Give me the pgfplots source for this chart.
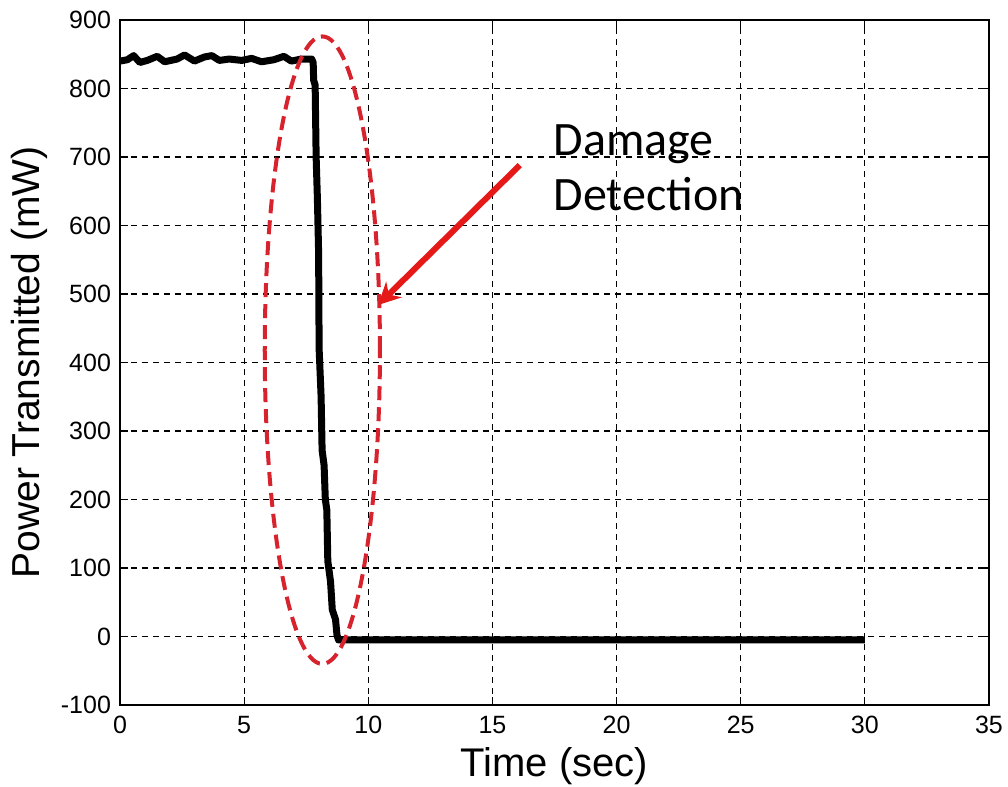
\documentclass[border=0pt]{standalone}
\usepackage{pgfplots}
\pgfplotsset{compat=1.18}
\usetikzlibrary{arrows.meta}
\usepackage{fontspec}
\setmainfont{Liberation Sans}
\newfontfamily\calib{Carlito}
\definecolor{ellred}{RGB}{215,35,45}
\definecolor{arrred}{RGB}{230,25,25}
\begin{document}
\begin{tikzpicture}
\useasboundingbox (-60pt,-41pt) rectangle (444pt,352.5pt);
\begin{axis}[
  at={(0,0)}, anchor=south west,
  scale only axis, width=434.5pt, height=342.5pt,
  xmin=0, xmax=35, ymin=-100, ymax=900,
  xtick={0,5,...,35}, ytick={-100,0,...,900},
  grid=major,
  major grid style={black, dashed, line width=0.6pt, dash pattern=on 3pt off 2.5pt},
  axis line style={black, line width=0.8pt},
  tick align=inside, tick pos=both,
  major tick length=4pt,
  tick style={black, line width=0.6pt},
  ticklabel style={font=\fontsize{12.5}{14}\selectfont},
  /pgf/number format/assume math mode=true,
  xticklabel style={yshift=-2pt},
  yticklabel style={xshift=-1pt},
  xlabel={Time (sec)},
  ylabel={Power Transmitted (mW)},
  xlabel style={font=\fontsize{20}{22}\selectfont, yshift=0pt},
  ylabel style={font=\fontsize{19.5}{22}\selectfont, yshift=0pt},
  clip=false,
]
\addplot[black, line width=3.5pt, line join=round] coordinates {
 (0,840) (0.3,842) (0.55,848) (0.8,838) (1.1,841) (1.5,847) (1.8,839)
 (2.3,843) (2.6,849) (3.0,840) (3.4,846) (3.7,848) (4.0,841) (4.4,843)
 (4.9,841) (5.3,844) (5.7,839) (6.2,842) (6.6,847) (6.9,840) (7.3,843)
 (7.6,843) (7.72,843)
 (7.78,838) (7.80,812) (7.86,805) (7.90,700) (7.95,640) (8.0,560) (8.02,420)
 (8.10,350) (8.14,272) (8.22,250) (8.27,200) (8.33,185) (8.37,110)
 (8.48,80) (8.55,39) (8.68,25) (8.74,2) (8.8,-5) (30,-5)
};
\draw[ellred, line width=2pt, dash pattern=on 7pt off 3.5pt]
  (axis cs:8.15,418) ellipse [x radius=2.32, y radius=458];
\draw[arrred, line width=3pt, -{Stealth[length=11pt,width=11pt]}]
  (axis cs:16.1,688) -- (axis cs:10.4,484);
\node[anchor=base west, align=left, font=\calib\fontsize{24}{27.5}\selectfont, inner sep=0pt]
  at (axis cs:17.45,622) {Damage\\Detection};
\end{axis}
\end{tikzpicture}
\end{document}
